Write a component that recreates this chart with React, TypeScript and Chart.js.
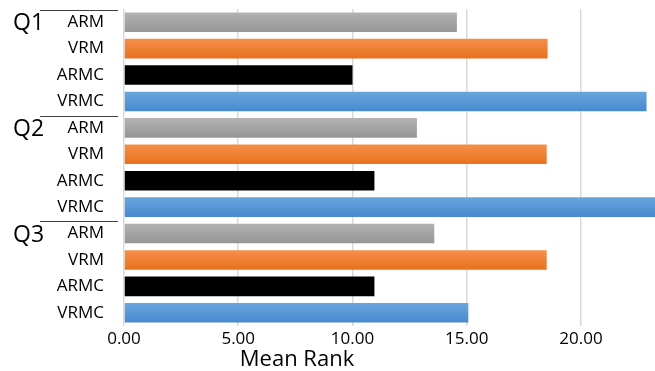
import React, { useEffect, useRef } from "react";
import { Chart, registerables } from "chart.js";

Chart.register(...registerables);

const groups = ["Q1", "Q2", "Q3"];
const methods = ["ARM", "VRM", "ARMC", "VRMC"];
const q1Values = [14.57, 18.54, 10.0, 22.87];
const q2Values = [12.82, 18.5, 10.96, 23.6];
const q3Values = [13.58, 18.5, 10.96, 15.07];
const xTicks = [0, 5, 10, 15, 20];
const axisTitle = "Mean Rank";

const FONT = "'Open Sans', Lato, sans-serif";

const methodColors: Record<string, [string, string]> = {
  ARM: ["#b3b3b3", "#959595"],
  VRM: ["#f5904a", "#e8701e"],
  ARMC: ["#000000", "#000000"],
  VRMC: ["#6aa6de", "#4689cd"],
};

export default function App() {
  const ref = useRef<HTMLCanvasElement | null>(null);

  useEffect(() => {
    document.body.style.margin = "0";
    const canvas = ref.current;
    if (!canvas) return;

    const allValues = [q1Values, q2Values, q3Values];
    const labels: string[] = [];
    const values: number[] = [];
    const methodOf: string[] = [];
    groups.forEach((_, g) => {
      methods.forEach((m, i) => {
        labels.push(m);
        values.push(allValues[g][i]);
        methodOf.push(m);
      });
    });

    const groupPlugin = {
      id: "groupLabels",
      afterDraw(chart: any) {
        const { ctx, scales } = chart;
        const y = scales.y;
        const pitch = Math.abs(y.getPixelForValue(1) - y.getPixelForValue(0));
        ctx.save();
        groups.forEach((gName, g) => {
          const c = y.getPixelForValue(g * methods.length);
          const lineY = c - pitch / 2 + 1;
          ctx.strokeStyle = "#404040";
          ctx.lineWidth = 1;
          ctx.beginPath();
          ctx.moveTo(40, Math.round(lineY) + 0.5);
          ctx.lineTo(118, Math.round(lineY) + 0.5);
          ctx.stroke();
          ctx.fillStyle = "#000000";
          ctx.font = `23px ${FONT}`;
          ctx.textAlign = "left";
          ctx.textBaseline = "middle";
          ctx.fillText(gName, 13, c + 1.5);
        });
        ctx.font = `22px ${FONT}`;
        ctx.textAlign = "center";
        ctx.textBaseline = "alphabetic";
        ctx.fillStyle = "#000000";
        ctx.fillText(axisTitle, 297, 366);
        ctx.restore();
      },
    };

    const chart = new Chart(canvas, {
      type: "bar",
      data: {
        labels,
        datasets: [
          {
            data: values,
            backgroundColor: (context: any) => {
              const m = methodOf[context.dataIndex];
              const [top, bottom] = methodColors[m] || ["#999", "#999"];
              const chartRef = context.chart;
              const ys = chartRef.scales && chartRef.scales.y;
              if (!ys || top === bottom) return top;
              const c = ys.getPixelForValue(context.dataIndex);
              if (!isFinite(c)) return top;
              const grad = chartRef.ctx.createLinearGradient(0, c - 10, 0, c + 10);
              grad.addColorStop(0, top);
              grad.addColorStop(1, bottom);
              return grad;
            },
            barPercentage: 0.74,
            categoryPercentage: 1,
          },
        ],
      },
      options: {
        indexAxis: "y",
        responsive: false,
        animation: false,
        maintainAspectRatio: false,
        layout: { padding: { top: 9, right: 0, left: 0, bottom: 0 } },
        plugins: {
          legend: { display: false },
          tooltip: { enabled: false },
          title: { display: false },
        },
        scales: {
          x: {
            type: "linear",
            min: 0,
            max: 23.24,
            afterBuildTicks: (axis: any) => {
              axis.ticks = xTicks.map((v) => ({ value: v }));
            },
            afterFit: (axis: any) => {
              axis.height = 45;
              axis.paddingLeft = 0;
              axis.paddingRight = 0;
            },
            grid: {
              color: "#d9d9d9",
              lineWidth: 1.5,
              drawTicks: false,
            },
            border: { display: false },
            ticks: {
              padding: 3,
              color: "#000000",
              font: { family: FONT, size: 17 },
              callback: (v: any) => Number(v).toFixed(2),
            },
          },
          y: {
            type: "category",
            afterFit: (axis: any) => {
              axis.width = 124;
              axis.paddingTop = 0;
              axis.paddingBottom = 0;
            },
            grid: { display: false, drawTicks: false },
            border: { display: false },
            ticks: {
              padding: 20,
              color: "#000000",
              font: { family: FONT, size: 17 },
              autoSkip: false,
            },
          },
        },
      },
      plugins: [groupPlugin],
    } as any);

    return () => {
      chart.destroy();
    };
  }, []);

  return (
    <div style={{ width: 655, height: 371 }}>
      <canvas ref={ref} width={655} height={371} style={{ display: "block" }} />
    </div>
  );
}
